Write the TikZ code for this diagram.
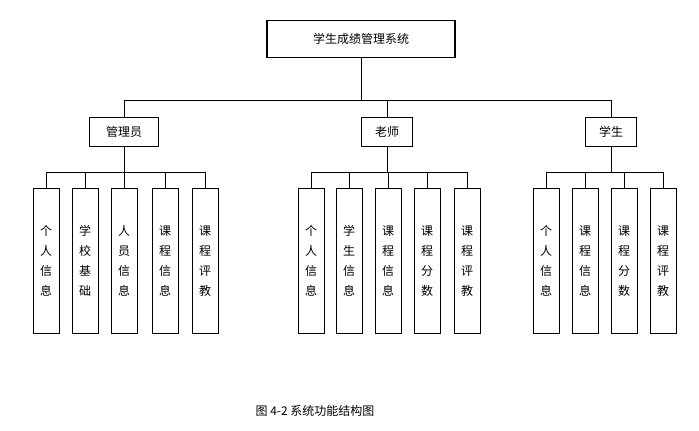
\documentclass[tikz,border=0pt]{standalone}
\usepackage{fontspec}
\setmainfont{Noto Sans CJK SC}
\usetikzlibrary{positioning}

\begin{document}
\begin{tikzpicture}[x=0.75pt,y=-0.75pt,font=\fontsize{9}{15}\selectfont]
        \tikzstyle{topbox}=[draw,thick,minimum width=141pt,minimum height=28pt,inner sep=0pt]
        \tikzstyle{midbox}=[draw,minimum width=52pt,minimum height=22pt,inner sep=0pt]
        \tikzstyle{leaf}=[draw,minimum width=19.5pt,minimum height=109pt,inner sep=0pt,align=center]
        \useasboundingbox (0,0) rectangle (699,431);
        \node[topbox] (sys) at (361,39) {学生成绩管理系统};
        \node[midbox] (admin) at (124,132) {管理员};
        \node[midbox,minimum width=38pt] (teacher) at (387,132) {老师};
        \node[midbox,minimum width=38pt] (student) at (611,132) {学生};
        \coordinate (busL) at (124,100);
        \coordinate (busR) at (611,100);
        \coordinate (busM) at (361,100);
        \draw (sys)--(busM);
        \draw (busL)--(busR);
        \draw (busL)--(admin);
        \draw (387,100)--(teacher);
        \draw (busR)--(student);
        % 管理员
        \foreach \n/\x/\t in {a1/46/个\\人\\信\\息, a2/85/学\\校\\基\\础, a3/124/人\\员\\信\\息, a4/165/课\\程\\信\\息, a5/205/课\\程\\评\\教}{
            \node[leaf] (\n) at (\x,261) {\t};
            \draw (\x,172)--(\n.north);
        }
        \draw (46,172)--(205,172);
        \draw (admin)--(124,172);
        % 老师
        \foreach \n/\x/\t in {b1/311/个\\人\\信\\息, b2/349/学\\生\\信\\息, b3/388/课\\程\\信\\息, b4/427/课\\程\\分\\数, b5/467/课\\程\\评\\教}{
            \node[leaf] (\n) at (\x,261) {\t};
            \draw (\x,172)--(\n.north);
        }
        \draw (311,172)--(467,172);
        \draw (teacher)--(387,172);
        % 学生
        \foreach \n/\x/\t in {c1/546/个\\人\\信\\息, c2/585/课\\程\\信\\息, c3/624/课\\程\\分\\数, c4/663/课\\程\\评\\教}{
            \node[leaf] (\n) at (\x,261) {\t};
            \draw (\x,172)--(\n.north);
        }
        \draw (546,172)--(663,172);
        \draw (student)--(611,172);
        \node (cap) at (315,411) {图 4-2 系统功能结构图};
    \end{tikzpicture}
\end{document}
